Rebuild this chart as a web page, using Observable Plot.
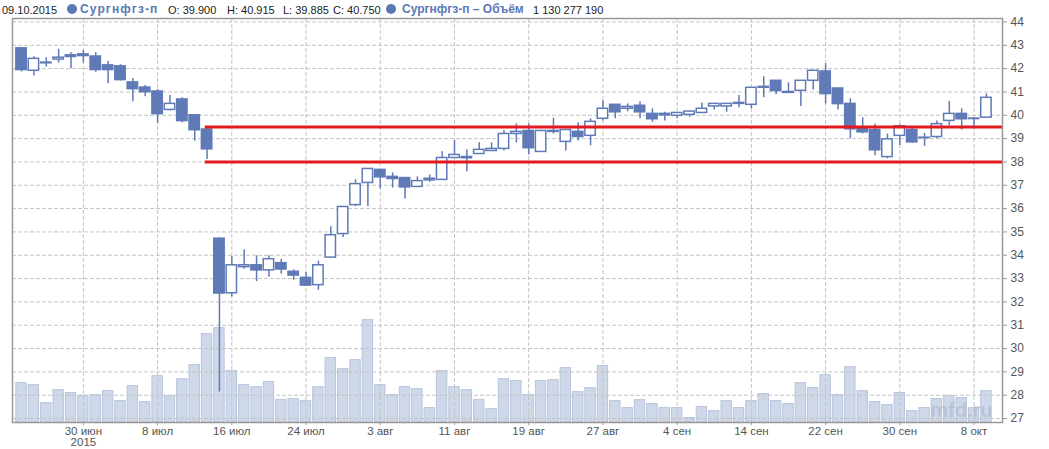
<!DOCTYPE html>
<html><head><meta charset="utf-8">
<script src="https://cdn.jsdelivr.net/npm/d3@7"></script>
<script src="https://cdn.jsdelivr.net/npm/@observablehq/plot@0.6"></script>
<style>
body{margin:0;background:#fff;font-family:"Liberation Sans",Arial,sans-serif;}
#wrap{position:relative;width:1049px;height:449px;}
#hdr{position:absolute;left:0;top:0;width:1049px;height:18px;font-size:11px;color:#222;white-space:nowrap;z-index:2;}
#hdr span{position:absolute;top:3.5px;line-height:13px;}
#hdr span.dot{top:4px;width:10px;height:10px;border-radius:50%;background:#5b78b6;}
#hdr span.nm{color:#5b78b6;font-weight:bold;font-size:12px;top:3px;}
#hdr span.wide{letter-spacing:1.1px;}
</style></head><body>
<div id="wrap"><div id="hdr"></div><div id="chart"></div></div>
<script>
const dates = [
"23.06.2015","24.06.2015","25.06.2015","26.06.2015","29.06.2015","30.06.2015",
"01.07.2015","02.07.2015","03.07.2015","06.07.2015","07.07.2015","08.07.2015","09.07.2015","10.07.2015",
"13.07.2015","14.07.2015","15.07.2015","16.07.2015","17.07.2015","20.07.2015","21.07.2015","22.07.2015",
"23.07.2015","24.07.2015","27.07.2015","28.07.2015","29.07.2015","30.07.2015","31.07.2015",
"03.08.2015","04.08.2015","05.08.2015","06.08.2015","07.08.2015","10.08.2015","11.08.2015","12.08.2015",
"13.08.2015","14.08.2015","17.08.2015","18.08.2015","19.08.2015","20.08.2015","21.08.2015","24.08.2015",
"25.08.2015","26.08.2015","27.08.2015","28.08.2015","31.08.2015",
"01.09.2015","02.09.2015","03.09.2015","04.09.2015","07.09.2015","08.09.2015","09.09.2015","10.09.2015",
"11.09.2015","14.09.2015","15.09.2015","16.09.2015","17.09.2015","18.09.2015","21.09.2015","22.09.2015",
"23.09.2015","24.09.2015","25.09.2015","28.09.2015","29.09.2015","30.09.2015",
"01.10.2015","02.10.2015","05.10.2015","06.10.2015","07.10.2015","08.10.2015","09.10.2015"];

const open  = [42.87,41.91,42.26,42.39,42.57,42.61,42.52,42.14,42.10,41.41,41.19,41.02,40.23,40.68,40.00,39.39,
34.71,32.37,33.49,33.57,33.35,33.66,33.29,33.03,32.72,33.90,34.91,36.15,37.10,37.66,37.36,37.31,36.93,37.28,
37.23,38.17,38.21,38.34,38.47,38.56,39.20,39.33,38.43,39.33,38.86,39.29,39.12,39.85,40.45,40.28,40.41,40.06,
40.06,39.98,40.02,40.10,40.38,40.38,40.53,40.45,41.22,41.48,41.00,41.05,41.48,41.88,41.15,40.49,39.47,39.37,
38.21,39.12,39.37,39.04,39.07,39.76,40.06,39.86,39.900];
const high  = [42.90,42.51,42.47,42.83,42.68,42.78,42.68,42.31,42.17,41.58,41.28,41.11,40.85,40.75,40.02,39.45,
34.75,33.95,34.22,33.98,33.98,33.83,33.37,33.26,33.75,35.22,36.08,37.24,37.71,37.67,37.53,37.31,37.36,37.44,
38.44,38.92,38.52,38.82,38.82,39.35,39.63,39.63,39.33,39.88,39.37,39.68,39.85,40.62,40.45,40.49,40.58,40.28,
40.13,40.10,40.16,40.53,40.49,40.49,40.85,41.18,41.65,41.48,41.39,41.48,41.91,42.21,41.15,40.71,39.89,39.62,
39.20,39.60,39.45,39.22,39.76,40.59,40.28,39.87,40.915];
const low   = [41.86,41.68,42.07,42.24,42.00,42.24,41.85,41.35,41.47,40.58,40.79,39.66,40.18,39.68,38.89,38.10,
28.14,32.21,33.40,32.87,33.06,33.19,32.93,32.68,32.50,33.87,34.76,36.09,36.09,36.84,36.88,36.41,36.92,37.13,
37.23,38.17,37.58,38.34,38.47,38.47,38.82,38.30,38.43,39.20,38.47,38.90,38.69,39.76,39.85,40.15,39.85,39.70,
39.76,39.85,39.92,40.10,40.23,40.13,40.32,40.28,40.75,40.88,40.96,40.38,41.09,40.49,40.23,39.00,39.20,38.27,
38.13,38.70,38.80,38.67,38.99,39.56,39.37,39.42,39.885];
const close = [41.94,42.42,42.23,42.47,42.50,42.54,41.94,41.94,41.51,41.12,40.99,40.05,40.49,39.75,39.36,38.54,
32.36,33.57,33.57,33.35,33.83,33.39,33.13,32.70,33.57,34.86,36.07,37.05,37.70,37.34,37.27,36.91,37.18,37.21,
38.17,38.30,38.16,38.52,38.56,39.20,39.29,38.59,39.33,39.29,39.37,39.07,39.72,40.28,40.13,40.36,40.13,39.83,
40.00,40.10,40.16,40.28,40.49,40.49,40.49,41.18,41.18,41.04,40.96,41.48,41.91,40.91,40.48,39.40,39.27,38.50,
38.97,39.53,38.84,39.02,39.62,40.06,39.83,39.84,40.750];
const volume = [1418e6,1346e6,698e6,1166e6,1058e6,961e6,986e6,1130e6,770e6,1310e6,734e6,1670e6,950e6,1562e6,
2066e6,3182e6,3398e6,1850e6,1346e6,1274e6,1454e6,806e6,842e6,770e6,1274e6,2318e6,1922e6,2246e6,3686e6,
1346e6,986e6,1274e6,1202e6,518e6,1850e6,1274e6,1166e6,806e6,482e6,1562e6,1490e6,986e6,1490e6,1526e6,1958e6,
1094e6,1238e6,2030e6,770e6,518e6,806e6,662e6,518e6,518e6,158e6,554e6,410e6,770e6,518e6,770e6,1022e6,770e6,
662e6,1418e6,1238e6,1706e6,986e6,1994e6,1130e6,734e6,626e6,1058e6,410e6,518e6,842e6,950e6,878e6,518e6,1130277190];

const tickDates  = ["30.06.2015","08.07.2015","16.07.2015","24.07.2015","03.08.2015","11.08.2015","19.08.2015",
"27.08.2015","04.09.2015","14.09.2015","22.09.2015","30.09.2015","08.10.2015"];
const tickLabels = ["30 июн\n2015","8 июл","16 июл","24 июл","3 авг","11 авг","19 авг","27 авг","4 сен","14 сен","22 сен","30 сен","8 окт"];
const yTicks = [27,28,29,30,31,32,33,34,35,36,37,38,39,40,41,42,43,44];
const levelPrices = [39.5, 38.0];
const levelStarts = ["14.07.2015","14.07.2015"];
const ticker = "Сургнфгз-п";
const volumeName = "Сургнфгз-п – Объём";

// header (legend line above the plot)
const last = dates.length - 1;
const fmtVol = v => d3.format(",")(Math.round(v)).replace(/,/g, " ");
const headerItems = [
  ["", dates[last]], ["dot", ""], ["nm wide", ticker],
  ["", `O: ${open[last].toFixed(3)}`], ["", `H: ${high[last].toFixed(3)}`],
  ["", `L: ${low[last].toFixed(3)}`], ["", `C: ${close[last].toFixed(3)}`],
  ["dot", ""], ["nm", volumeName], ["", fmtVol(volume[last])]
];
const headerLeft = [2, 67, 80, 168, 227, 283, 333, 386, 402, 533];
const hdr = d3.select("#hdr");
headerItems.forEach(([cls, txt], k) => {
  hdr.append("span").attr("class", cls).style("left", headerLeft[k] + "px").text(txt);
});

const idx = d => dates.indexOf(d);
const rows = dates.map((d, i) => ({i, o: open[i], h: high[i], l: low[i], c: close[i], v: volume[i]}));
const levels = levelPrices.map((p, k) => ({p, s: idx(levelStarts[k])}));
const tickIdx = tickDates.map(idx);

const yBase = 26.83, yTop = 44.15;
const xMin = -0.73, xMax = 79.3;
const volPerUnit = 8.4e8;
const half = 0.42;
const blue = "#5f7ab6";

const chart = Plot.plot({
  width: 1049, height: 449,
  marginTop: 18, marginLeft: 12, marginRight: 47, marginBottom: 27,
  x: {type: "linear", domain: [xMin, xMax], axis: null},
  y: {type: "linear", domain: [yBase, yTop], axis: null},
  style: {fontFamily: "'Liberation Sans', Arial, sans-serif", fontSize: "12px", background: "#fff"},
  marks: [
    Plot.rect(rows, {x1: d => d.i - half, x2: d => d.i + half, y1: yBase, y2: d => yBase + d.v / volPerUnit,
      fill: "#cfd8e9", stroke: "#b7c4dc", strokeWidth: 1}),
    Plot.gridY(yTicks, {stroke: "#c4c4c4", strokeOpacity: 1, strokeDasharray: "4,2"}),
    Plot.gridX(tickIdx, {stroke: "#c4c4c4", strokeOpacity: 1, strokeDasharray: "4,2"}),
    Plot.text(["mfd.ru"], {frameAnchor: "bottom-right", dx: -10, dy: -6, textAnchor: "end", lineAnchor: "bottom",
      fontSize: 20, fontWeight: "bold", fill: "#a9b3c6", fillOpacity: 0.55}),
    Plot.ruleX(rows, {x: "i", y1: "l", y2: "h", stroke: blue, strokeWidth: 1.5}),
    Plot.rect(rows, {x1: d => d.i - half, x2: d => d.i + half, y1: d => Math.min(d.o, d.c), y2: d => Math.max(d.o, d.c),
      fill: d => d.c < d.o ? blue : "#fff", stroke: blue, strokeWidth: 1.5}),
    Plot.ruleY(levels, {y: "p", x1: d => d.s - 0.15, x2: xMax, stroke: "#e3191f", strokeWidth: 3}),
    Plot.frame({stroke: "#999", strokeWidth: 1.5}),
    Plot.axisY(yTicks, {anchor: "right", label: null, tickSize: 4, tickPadding: 4, stroke: "#999", fill: "#555", fontSize: 12}),
    Plot.axisX(tickIdx, {anchor: "bottom", label: null, tickSize: 3, tickPadding: 1, stroke: "#999", fill: "#555", fontSize: 11.5,
      tickFormat: (d) => tickLabels[tickIdx.indexOf(d)]})
  ]
});
document.getElementById("chart").appendChild(chart);
</script>
</body></html>
